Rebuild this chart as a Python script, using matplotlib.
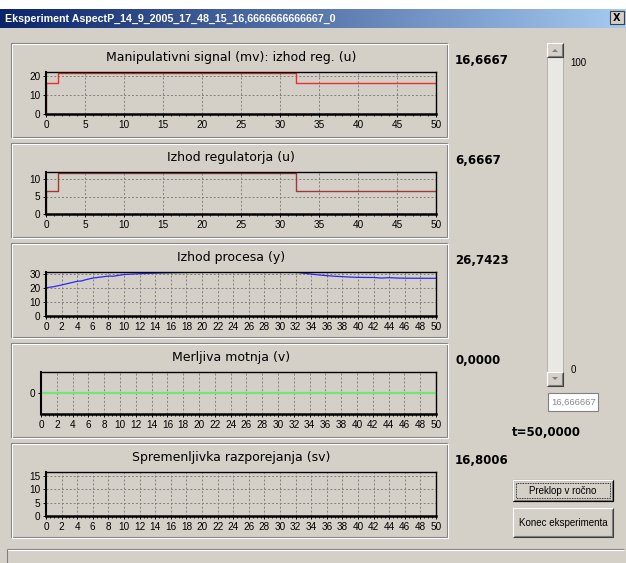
import matplotlib
matplotlib.use("Agg")
import matplotlib.pyplot as plt
import numpy as np
from matplotlib.patches import Rectangle, Polygon
from matplotlib.ticker import MultipleLocator

W, H = 626, 563
BG = "#d4d0c8"

window_title = "Eksperiment AspectP_14_9_2005_17_48_15_16,6666666666667_0"
panel_titles = [
    "Manipulativni signal (mv): izhod reg. (u)",
    "Izhod regulatorja (u)",
    "Izhod procesa (y)",
    "Merljiva motnja (v)",
    "Spremenljivka razporejanja (sv)",
]
panel_values = ["16,6667", "6,6667", "26,7423", "0,0000", "16,8006"]

# step signals, drawn with steps-post
step_t = [0, 0, 1.6, 32, 50]
mv = [0, 16.6667, 21.6667, 16.6667, 16.6667]
u = [0, 6.6667, 11.6667, 6.6667, 6.6667]

# process output
y_t = [0, 1, 2, 3, 4, 4.6, 5, 6, 7, 8, 8.6, 10, 12, 14, 16, 18, 20, 22, 24, 26,
       28, 30, 32, 33, 34, 35, 36, 37, 38, 39, 40, 42, 43, 44, 45, 46, 48, 50]
y = [20.0, 20.8, 22.0, 23.3, 24.6, 24.9, 25.6, 26.9, 27.6, 28.3, 28.2, 29.4,
     30.0, 30.4, 30.7, 30.9, 31.0, 31.0, 31.0, 31.0, 31.0, 31.0, 31.0, 30.4,
     29.7, 29.1, 28.6, 28.2, 27.9, 27.6, 27.4, 27.3, 26.9, 27.2, 26.9, 26.8,
     26.75, 26.74]

# measured disturbance
v_t = [0, 50]
v = [0, 0]

# y-axis ticks / limits per panel
y_ticks = [[0, 10, 20], [0, 5, 10], [0, 10, 20, 30], [0], [0, 5, 10, 15]]
y_lims = [(0, 22.3), (0, 12.0), (0, 31.2), (-1, 1), (0, 16.4)]
x_major = [5, 5, 2, 2, 2]

fig = plt.figure(figsize=(W / 100, H / 100), dpi=100)
fig.patch.set_facecolor(BG)

bg = fig.add_axes([0, 0, 1, 1], zorder=0)
bg.set_xlim(0, W)
bg.set_ylim(H, 0)
bg.axis("off")


def line(xs, ys, c, lw=1.0):
    bg.plot(xs, ys, color=c, lw=lw, solid_capstyle="butt")


def raised(x, y0, w, h, face=BG, black=False):
    bg.add_patch(Rectangle((x, y0), w, h, fc=face, ec="none"))
    line([x, x, x + w], [y0 + h, y0, y0], "white", 0.8)
    line([x + 1, x + w - 1, x + w - 1], [y0 + h - 1, y0 + h - 1, y0 + 1], "#808080", 0.8)
    line([x, x + w, x + w], [y0 + h, y0 + h, y0], "#404040" if not black else "black", 0.8)
    if black:
        bg.add_patch(Rectangle((x, y0), w, h, fc="none", ec="black", lw=0.8))


# window title bar
bg.add_patch(Rectangle((0, 0), W, 9, fc="white", ec="none"))
grad = np.linspace(0, 1, 256)[None, :, None]
c0 = np.array([10, 36, 106]) / 255
c1 = np.array([166, 202, 240]) / 255
bg.imshow(c0 + (c1 - c0) * grad, extent=[0, W, 28, 9], aspect="auto", zorder=1)
bg.set_xlim(0, W)
bg.set_ylim(H, 0)
bg.text(5, 18.5, window_title, color="white", fontsize=7.7, fontweight="bold",
        family="Liberation Sans", va="center", ha="left", zorder=2)
bg.add_patch(Rectangle((610, 11), 14, 13, fc=BG, ec="#404040", lw=0.8, zorder=2))
bg.text(617, 17.8, "X", fontsize=7, fontweight="bold", ha="center", va="center",
        family="DejaVu Sans", zorder=3)

# group boxes, panels
box_tops = [43, 143, 243, 343, 443]
ax_rects = [(46, 72, 436, 114), (46, 172, 436, 214), (46, 272, 436, 316),
            (41, 372, 436, 414), (46, 472, 436, 516)]
for i, top in enumerate(box_tops):
    bg.add_patch(Rectangle((11, top), 436, 94, fc="none", ec="#808080", lw=0.8))
    bg.add_patch(Rectangle((12, top + 1), 436, 94, fc="none", ec="white", lw=0.8))
    bg.text(231, top + 14, panel_titles[i], fontsize=9, ha="center", va="center",
            family="DejaVu Sans")
    bg.text(455, top + 18, panel_values[i], fontsize=8.5, fontweight="bold",
            ha="left", va="center", family="DejaVu Sans")

axes = []
for i, (x0, y0, x1, y1) in enumerate(ax_rects):
    ax = fig.add_axes([x0 / W, 1 - y1 / H, (x1 - x0) / W, (y1 - y0) / H], zorder=2)
    ax.set_facecolor(BG)
    ax.set_xlim(0, 50)
    ax.set_ylim(*y_lims[i])
    ax.set_yticks(y_ticks[i])
    ax.xaxis.set_major_locator(MultipleLocator(x_major[i]))
    ax.xaxis.set_minor_locator(MultipleLocator(1 if x_major[i] == 5 else 0.5))
    ax.grid(True, which="major", ls=(0, (2, 2)), color="#808080", lw=0.7)
    for s in ax.spines.values():
        s.set_color("black")
        s.set_linewidth(1.0)
    ax.spines["bottom"].set_linewidth(1.8)
    ax.spines["left"].set_linewidth(1.5)
    ax.tick_params(which="major", length=2.5, width=0.7, pad=1.5, labelsize=7.2)
    ax.tick_params(which="minor", length=1.5, width=0.6)
    for lab in ax.get_xticklabels() + ax.get_yticklabels():
        lab.set_family("Liberation Sans")
    axes.append(ax)

axes[0].plot(step_t, mv, drawstyle="steps-post", color="#e8302c", lw=1.0)
axes[1].plot(step_t, u, drawstyle="steps-post", color="#9e3a36", lw=1.0)
axes[2].plot(y_t, y, color="#2a2aff", lw=0.9)
axes[3].plot(v_t, v, color="#6ee86e", lw=1.6)

# scroll bar
bg.add_patch(Rectangle((547, 43), 16, 343, fc="#eae8e3", ec="#b0aca4", lw=0.6))
raised(547, 43, 16, 14)
raised(547, 372, 16, 14)
bg.add_patch(Polygon([[552, 52], [558, 52], [555, 49]], closed=True, fc="#808080", ec="none"))
bg.add_patch(Polygon([[552, 377], [558, 377], [555, 380]], closed=True, fc="#808080", ec="none"))
bg.text(570, 63, "100", fontsize=7, family="Liberation Sans", va="center")
bg.text(571, 370, "0", fontsize=7, family="Liberation Sans", va="center")

# edit box
bg.add_patch(Rectangle((548, 393), 50, 18, fc="white", ec="#808080", lw=0.8))
bg.text(551, 402.5, "16,666667", fontsize=6.8, color="#8a8a8a",
        family="Liberation Sans", va="center")

bg.text(512, 433, "t=50,0000", fontsize=8.5, fontweight="bold", va="center",
        family="DejaVu Sans")

# buttons
raised(513, 480, 100, 21, black=True)
bg.add_patch(Rectangle((516, 483), 94, 15, fc="none", ec="black", lw=0.6, ls=(0, (1, 1))))
bg.text(563, 490.5, "Preklop v ročno", fontsize=7, family="Liberation Sans",
        ha="center", va="center")
raised(513, 508, 100, 29)
bg.text(563, 522.5, "Konec eksperimenta", fontsize=7, family="Liberation Sans",
        ha="center", va="center")

# status separator
line([7, W - 2], [549, 549], "#808080", 0.8)
line([7, W - 2], [550, 550], "white", 0.8)
line([7, 7], [549, H], "#808080", 0.8)

fig.savefig("out.png", dpi=100, facecolor=BG)
